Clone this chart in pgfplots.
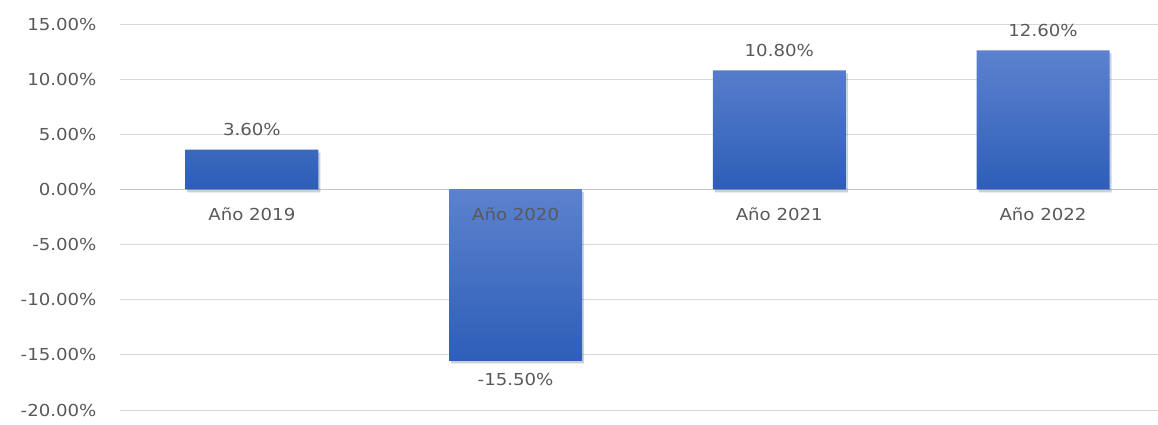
\documentclass[border=0pt]{standalone}
\usepackage{pgfplots}
\pgfplotsset{compat=1.18}
\usepackage{fontspec}
\setmainfont{DejaVu Sans}[FakeStretch=1.1]
\definecolor{txt}{HTML}{595959}
\definecolor{grd}{HTML}{D9D9D9}
\definecolor{zer}{HTML}{C8C8C8}
\definecolor{bartop}{RGB}{92,130,206}
\definecolor{barbot}{RGB}{46,94,184}
\begin{document}
\begin{tikzpicture}
\path[use as bounding box] (-120pt,-15pt) rectangle (1038pt,410pt);
\begin{axis}[
  scale only axis,
  width=1038pt, height=386pt,
  xmin=-0.5, xmax=3.436,
  ymin=-20, ymax=15,
  ytick={-20,-15,...,15},
  xtick=\empty,
  axis x line=middle,
  axis y line=left,
  y axis line style={draw=none},
  x axis line style={draw=zer, line width=1.5pt, -},
  major tick length=0pt,
  ymajorgrids,
  grid style={draw=grd, line width=0.9pt},
  /pgf/number format/assume math mode=true,
  yticklabel={\pgfmathprintnumber[fixed,zerofill,precision=2]{\tick}\%},
  yticklabel style={anchor=east, xshift=-20pt},
  ticklabel style={font=\fontsize{16.5}{19}\selectfont, text=txt},
  clip=false,
]
\addplot[ybar, bar width=133pt, bar shift=0pt, draw=none, top color=bartop, bottom color=barbot,
  preaction={fill=black, fill opacity=0.12, transform canvas={xshift=2pt,yshift=-3pt}},
  nodes near coords={\pgfmathprintnumber[fixed,zerofill,precision=2]{\pgfplotspointmeta}\%},
  every node near coord/.append style={font=\fontsize{16.5}{19}\selectfont, text=txt, yshift=10pt},
] coordinates {(0,3.6) (2,10.8) (3,12.6)};
\addplot[ybar, bar width=133pt, bar shift=0pt, draw=none, top color=bartop, bottom color=barbot,
  preaction={fill=black, fill opacity=0.12, transform canvas={xshift=2pt,yshift=-3pt}},
  nodes near coords={\pgfmathprintnumber[fixed,zerofill,precision=2]{\pgfplotspointmeta}\%},
  every node near coord/.append style={font=\fontsize{16.5}{19}\selectfont, text=txt, yshift=-9pt},
] coordinates {(1,-15.5)};
\addplot[only marks, mark=none, point meta=explicit symbolic,
  nodes near coords,
  every node near coord/.append style={font=\fontsize{16.5}{19}\selectfont, text=txt, anchor=center, yshift=-25pt},
] coordinates {(0,0)[Año 2019] (1,0)[Año 2020] (2,0)[Año 2021] (3,0)[Año 2022]};
\end{axis}
\end{tikzpicture}
\end{document}
